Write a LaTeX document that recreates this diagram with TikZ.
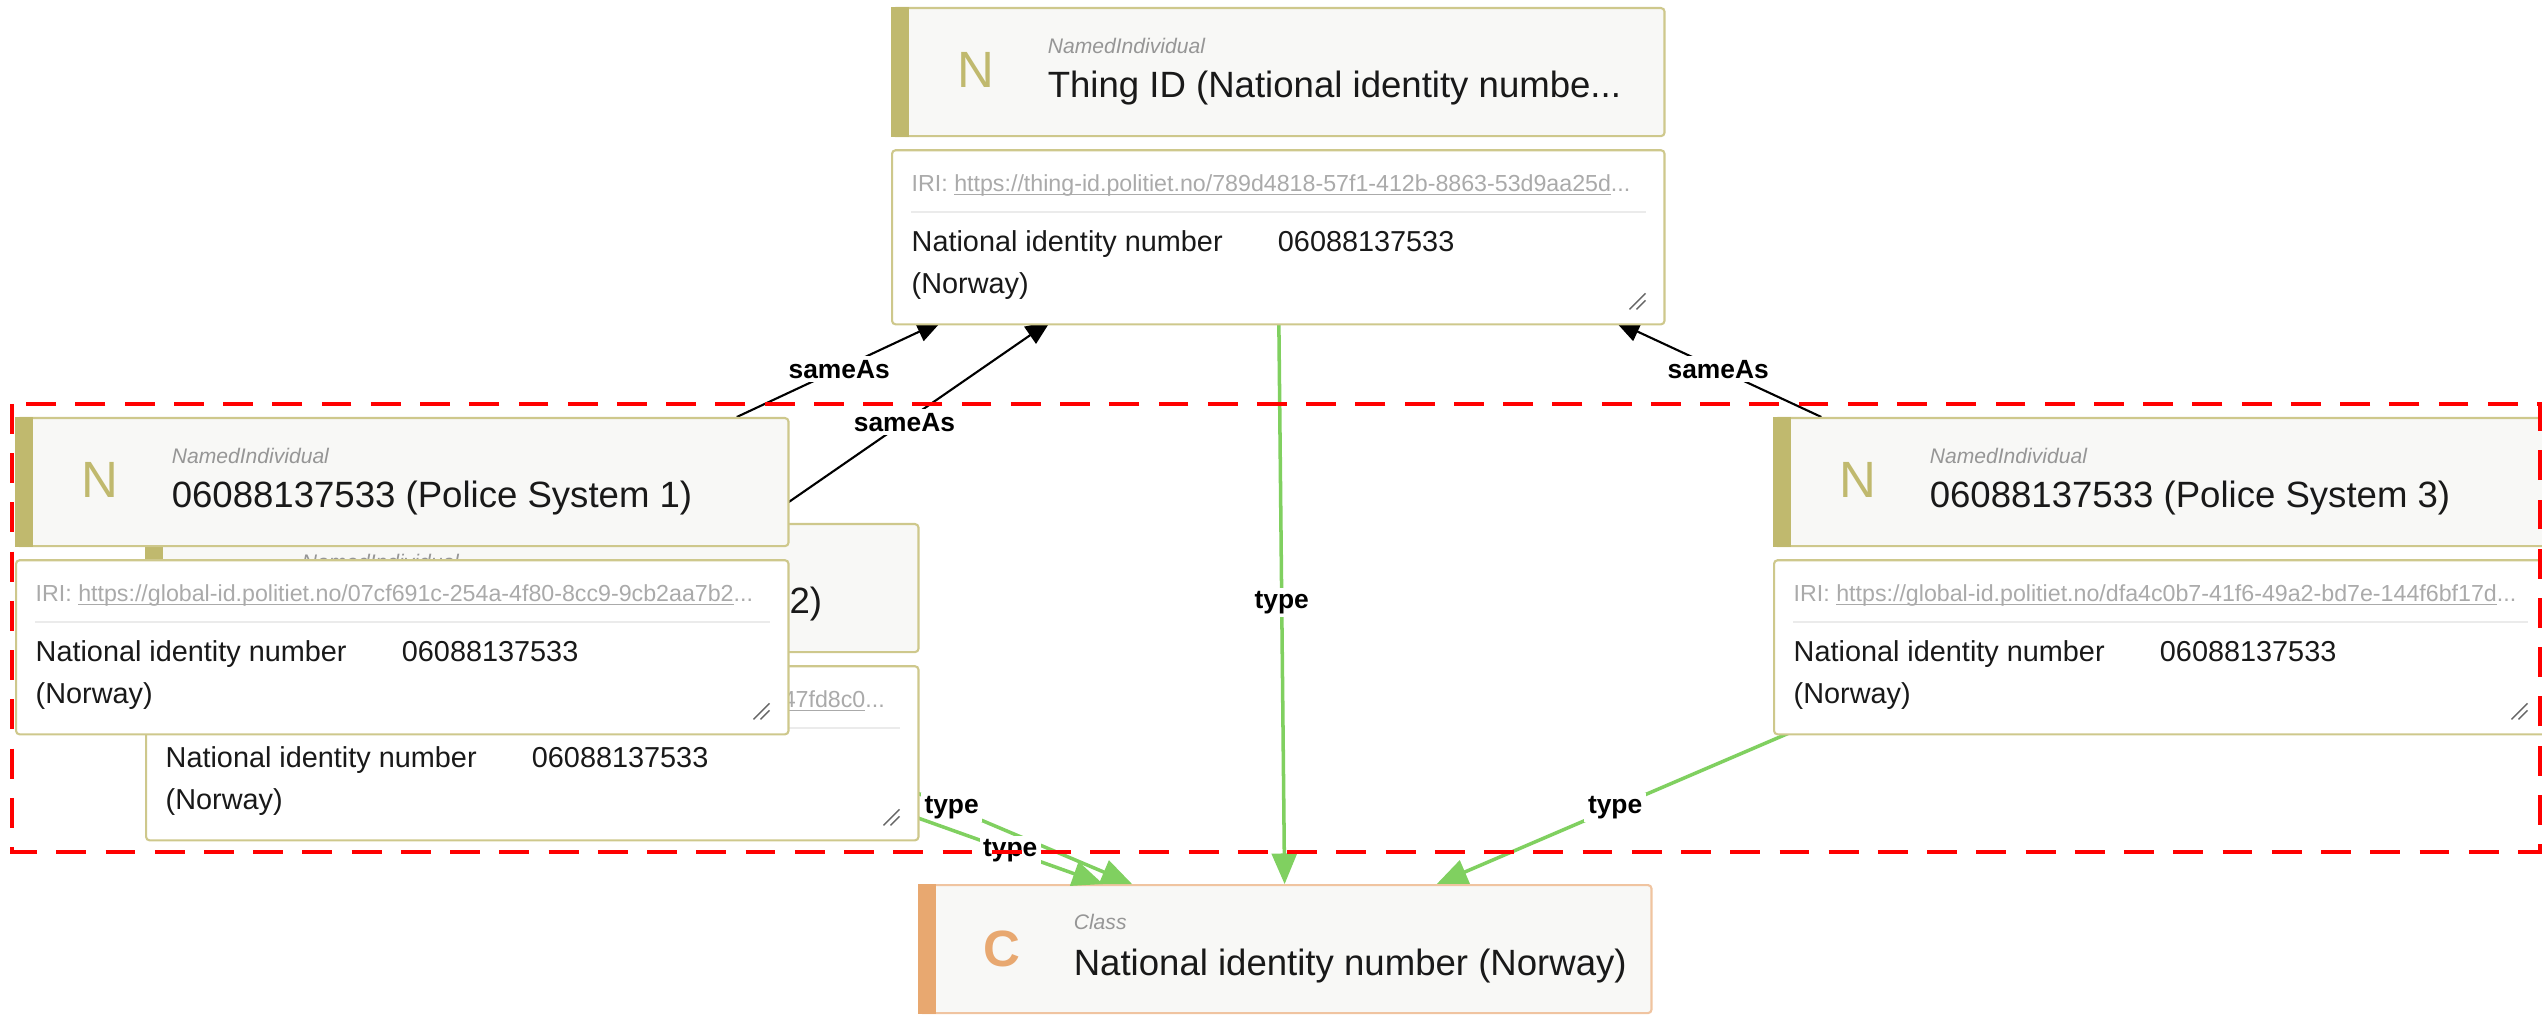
\documentclass[tikz,border=0pt]{standalone}
\usepackage{fontspec}
\setmainfont{Liberation Sans}
\usetikzlibrary{arrows,positioning}

\newcommand{\urlline}[1]{\setbox0\hbox{#1}\rlap{\rule[-1.1pt]{\wd0}{0.35pt}}\box0}

\definecolor{goldbar}{RGB}{192,185,110}
\definecolor{goldline}{RGB}{206,200,140}
\definecolor{hdrfill}{RGB}{248,248,246}
\definecolor{orangebar}{RGB}{232,168,112}
\definecolor{orangeline}{RGB}{240,196,160}
\definecolor{typegreen}{RGB}{128,208,96}
\definecolor{kindgray}{RGB}{150,150,150}
\definecolor{irigray}{RGB}{170,170,170}
\definecolor{titleblack}{RGB}{25,25,25}

\begin{document}
\begin{tikzpicture}[x=0.01cm, y=-0.01cm,
    block/.style={rectangle, minimum width=7.72cm, minimum height=3.14cm, anchor=north west, inner sep=0pt, outer sep=0pt},
    header/.style={rectangle, draw=goldline, fill=hdrfill, line width=0.6pt, rounded corners=1pt, minimum width=7.72cm, minimum height=1.28cm, anchor=north west, inner sep=0pt},
    iribox/.style={rectangle, draw=goldline, fill=white, line width=0.6pt, rounded corners=1pt, minimum width=7.72cm, minimum height=1.74cm, inner sep=0pt},
    letter/.style={text=goldbar, font=\fontsize{14.5}{16}\selectfont},
    kind/.style={anchor=base west, inner sep=0pt, text=kindgray, font=\fontsize{6}{7}\selectfont\itshape},
    heading/.style={anchor=base west, inner sep=0pt, text=titleblack, font=\fontsize{10.4}{12}\selectfont},
    iri/.style={anchor=base west, inner sep=0pt, text=irigray, font=\fontsize{6.6}{8}\selectfont},
    propname/.style={anchor=north west, inner sep=0pt, align=left, text=titleblack, font=\fontsize{8.2}{11.95}\selectfont},
    idval/.style={anchor=base west, inner sep=0pt, text=titleblack, font=\fontsize{8.2}{10}\selectfont},
    sepline/.style={draw=black!8, line width=0.6pt},
    grip/.style={draw=black!60, line width=0.4pt},
    sameas/.style={->, >=triangle 45, line width=0.6pt, black},
    typeof/.style={->, >=triangle 45, line width=1pt, typegreen},
    lbl/.style={fill=white, inner sep=1pt, text=black, font=\fontsize{7.5}{9}\selectfont\bfseries},
    highlight/.style={draw=red, line width=1.2pt, dash pattern=on 8.5pt off 5.5pt}
]
\useasboundingbox (0,0) rectangle (2542,1016);

% Blocks (header + IRI box) used as edge ends
\node[block] (thing) at (891,7) {};
\node[block] (ps2) at (145,523) {};
\node[block] (ps1) at (15,417) {};
\node[block] (ps3) at (1773,417) {};

% Class
\node[header, draw=orangeline, minimum width=7.32cm] (cls) at (918,884) {};
\fill[orangebar] (cls.north west) rectangle ([xshift=0.18cm]cls.south west);
\node[letter, text=orangebar, font=\fontsize{14.5}{16}\selectfont\bfseries] at ([xshift=0.84cm, yshift=-0.65cm]cls.north west) {C};
\node[kind] at ([xshift=1.55cm, yshift=-0.45cm]cls.north west) {Class};
\node[heading] at ([xshift=1.55cm, yshift=-0.91cm]cls.north west) {National identity number (Norway)};

% Edges
\draw[sameas] (ps1) -- (thing) node[lbl, midway] {sameAs};
\draw[sameas] (ps2) -- (thing) node[lbl, midway] {sameAs};
\draw[sameas] (ps3) -- (thing) node[lbl, midway] {sameAs};
\draw[typeof] (thing) -- (cls) node[lbl, midway] {type};
\draw[typeof] (ps1) -- (cls) node[lbl, midway] {type};
\draw[typeof] (ps2) -- (cls) node[lbl, midway] {type};
\draw[typeof] (ps3) -- (cls) node[lbl, midway] {type};

% Thing ID
\node[header] (thing-h) at (thing.north west) {};
\fill[goldbar] (thing-h.north west) rectangle ([xshift=0.18cm]thing-h.south west);
\node[letter] at ([xshift=0.85cm, yshift=-0.63cm]thing-h.north west) {N};
\node[kind] at ([xshift=1.56cm, yshift=-0.46cm]thing-h.north west) {NamedIndividual};
\node[heading] at ([xshift=1.56cm, yshift=-0.90cm]thing-h.north west) {Thing ID (National identity numbe...};
\node[iribox, below=0.12cm of thing-h.south west, anchor=north west] (thing-i) {};
\node[iri] at ([xshift=0.2cm, yshift=-0.42cm]thing-i.north west) {IRI: \urlline{https://thing-id.politiet.no/789d4818-57f1-412b-8863-53d9aa25d}...};
\draw[sepline] ([xshift=0.2cm, yshift=-0.63cm]thing-i.north west) -- ([xshift=-0.2cm, yshift=-0.63cm]thing-i.north east);
\node[propname] at ([xshift=0.2cm, yshift=-0.81cm]thing-i.north west) {National identity number\\(Norway)};
\node[idval] at ([xshift=3.86cm, yshift=-1.02cm]thing-i.north west) {06088137533};
\draw[grip] ([xshift=-0.36cm, yshift=0.16cm]thing-i.south east) -- ([xshift=-0.2cm, yshift=0.32cm]thing-i.south east);
\draw[grip] ([xshift=-0.29cm, yshift=0.16cm]thing-i.south east) -- ([xshift=-0.2cm, yshift=0.25cm]thing-i.south east);

% Police System 2 (behind 1)
\node[header] (ps2-h) at (ps2.north west) {};
\fill[goldbar] (ps2-h.north west) rectangle ([xshift=0.18cm]ps2-h.south west);
\node[letter] at ([xshift=0.85cm, yshift=-0.63cm]ps2-h.north west) {N};
\node[kind] at ([xshift=1.56cm, yshift=-0.46cm]ps2-h.north west) {NamedIndividual};
\node[heading] at ([xshift=1.56cm, yshift=-0.90cm]ps2-h.north west) {06088137533 (Police System 2)};
\node[iribox, below=0.12cm of ps2-h.south west, anchor=north west] (ps2-i) {};
\node[iri, anchor=base east] at ([xshift=7.40cm, yshift=-0.42cm]ps2-i.north west) {\urlline{47fd8c0}...};
\draw[sepline] ([xshift=0.2cm, yshift=-0.63cm]ps2-i.north west) -- ([xshift=-0.2cm, yshift=-0.63cm]ps2-i.north east);
\node[propname] at ([xshift=0.2cm, yshift=-0.81cm]ps2-i.north west) {National identity number\\(Norway)};
\node[idval] at ([xshift=3.86cm, yshift=-1.02cm]ps2-i.north west) {06088137533};
\draw[grip] ([xshift=-0.36cm, yshift=0.16cm]ps2-i.south east) -- ([xshift=-0.2cm, yshift=0.32cm]ps2-i.south east);
\draw[grip] ([xshift=-0.29cm, yshift=0.16cm]ps2-i.south east) -- ([xshift=-0.2cm, yshift=0.25cm]ps2-i.south east);

% Police System 1
\node[header] (ps1-h) at (ps1.north west) {};
\fill[goldbar] (ps1-h.north west) rectangle ([xshift=0.18cm]ps1-h.south west);
\node[letter] at ([xshift=0.85cm, yshift=-0.63cm]ps1-h.north west) {N};
\node[kind] at ([xshift=1.56cm, yshift=-0.46cm]ps1-h.north west) {NamedIndividual};
\node[heading] at ([xshift=1.56cm, yshift=-0.90cm]ps1-h.north west) {06088137533 (Police System 1)};
\node[iribox, below=0.12cm of ps1-h.south west, anchor=north west] (ps1-i) {};
\node[iri] at ([xshift=0.2cm, yshift=-0.42cm]ps1-i.north west) {IRI: \urlline{https://global-id.politiet.no/07cf691c-254a-4f80-8cc9-9cb2aa7b2}...};
\draw[sepline] ([xshift=0.2cm, yshift=-0.63cm]ps1-i.north west) -- ([xshift=-0.2cm, yshift=-0.63cm]ps1-i.north east);
\node[propname] at ([xshift=0.2cm, yshift=-0.81cm]ps1-i.north west) {National identity number\\(Norway)};
\node[idval] at ([xshift=3.86cm, yshift=-1.02cm]ps1-i.north west) {06088137533};
\draw[grip] ([xshift=-0.36cm, yshift=0.16cm]ps1-i.south east) -- ([xshift=-0.2cm, yshift=0.32cm]ps1-i.south east);
\draw[grip] ([xshift=-0.29cm, yshift=0.16cm]ps1-i.south east) -- ([xshift=-0.2cm, yshift=0.25cm]ps1-i.south east);

% Police System 3
\node[header] (ps3-h) at (ps3.north west) {};
\fill[goldbar] (ps3-h.north west) rectangle ([xshift=0.18cm]ps3-h.south west);
\node[letter] at ([xshift=0.85cm, yshift=-0.63cm]ps3-h.north west) {N};
\node[kind] at ([xshift=1.56cm, yshift=-0.46cm]ps3-h.north west) {NamedIndividual};
\node[heading] at ([xshift=1.56cm, yshift=-0.90cm]ps3-h.north west) {06088137533 (Police System 3)};
\node[iribox, below=0.12cm of ps3-h.south west, anchor=north west] (ps3-i) {};
\node[iri] at ([xshift=0.2cm, yshift=-0.42cm]ps3-i.north west) {IRI: \urlline{https://global-id.politiet.no/dfa4c0b7-41f6-49a2-bd7e-144f6bf17d}...};
\draw[sepline] ([xshift=0.2cm, yshift=-0.63cm]ps3-i.north west) -- ([xshift=-0.2cm, yshift=-0.63cm]ps3-i.north east);
\node[propname] at ([xshift=0.2cm, yshift=-0.81cm]ps3-i.north west) {National identity number\\(Norway)};
\node[idval] at ([xshift=3.86cm, yshift=-1.02cm]ps3-i.north west) {06088137533};
\draw[grip] ([xshift=-0.36cm, yshift=0.16cm]ps3-i.south east) -- ([xshift=-0.2cm, yshift=0.32cm]ps3-i.south east);
\draw[grip] ([xshift=-0.29cm, yshift=0.16cm]ps3-i.south east) -- ([xshift=-0.2cm, yshift=0.25cm]ps3-i.south east);

% Highlight
\draw[highlight] (12,404) rectangle (2540,852);

\end{tikzpicture}
\end{document}
